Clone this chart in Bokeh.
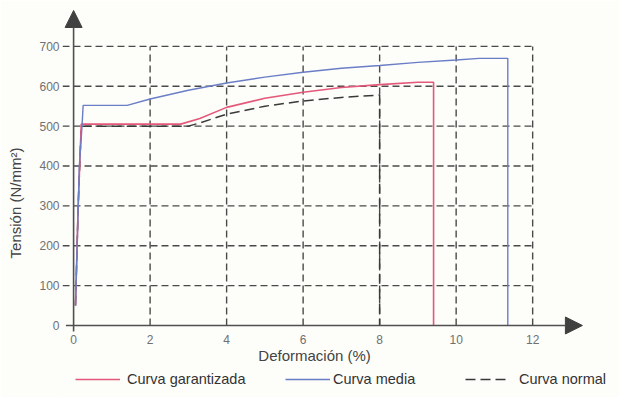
from bokeh.plotting import figure
from bokeh.models import (Range1d, FixedTicker, Arrow, NormalHead, Legend, LegendItem)
from bokeh.core.properties import value
from bokeh.embed import file_html
from bokeh.resources import INLINE

# ---- data ----
x_ticks = [0, 2, 4, 6, 8, 10, 12]
x_tick_labels = [str(t) for t in x_ticks]
y_ticks = [0, 100, 200, 300, 400, 500, 600, 700]

garantizada_x = [0.05, 0.12, 0.2, 2.8, 3.3, 4.0, 5.0, 6.0, 7.0, 8.0, 9.0, 9.41, 9.41]
garantizada_y = [50, 300, 505, 505, 519, 547, 570, 585, 597, 604, 610, 610, 0]

media_x = [0.05, 0.15, 0.22, 0.25, 1.4, 2.0, 3.0, 4.0, 5.0, 6.0, 7.0, 8.0, 9.0, 10.0, 10.6, 11.35, 11.35]
media_y = [50, 400, 500, 552, 552, 568, 590, 608, 623, 635, 645, 652, 660, 666, 670, 670, 0]

normal_x = [0.05, 0.12, 0.2, 3.0, 3.3, 4.0, 5.0, 6.0, 7.0, 8.0, 8.0]
normal_y = [50, 300, 500, 500, 508, 530, 550, 563, 572, 578, 0]

labels = ["Curva garantizada", "Curva media", "Curva normal"]
x_title = "Deformación (%)"
y_title = "Tensión (N/mm²)"

BG = "#fdfdfa"
GRID = "#4a4a4a"
AXIS = "#505050"
RED = "#e4587a"
BLUE = "#6a7ec6"
BLACK = "#3a3a3a"
FONT = "Liberation Sans"

p = figure(frame_width=557, frame_height=389,
           x_range=Range1d(-0.29, 14.27), y_range=Range1d(-180.6, 795),
           output_backend="svg", toolbar_location=None,
           min_border_left=62, min_border_right=0, min_border_top=8,
           min_border_bottom=0,
           background_fill_color=BG, border_fill_color=BG)
p.grid.visible = False
p.outline_line_color = None
p.xaxis.visible = False

ax = p.yaxis[0]
ax.ticker = FixedTicker(ticks=y_ticks)
ax.axis_line_color = None
ax.major_tick_line_color = None
ax.minor_tick_line_color = None
ax.major_tick_out = 0
ax.major_tick_in = 0
ax.major_label_standoff = 3
ax.major_label_text_font = FONT
ax.major_label_text_font_size = "12px"
ax.major_label_text_color = "#707070"
ax.axis_label = y_title
ax.axis_label_text_font = FONT
ax.axis_label_text_font_size = "15px"
ax.axis_label_text_font_style = "normal"
ax.axis_label_text_color = "#444444"
ax.axis_label_standoff = 12

# x tick labels and title (drawn as text below the y=0 axis)
p.text(x=x_ticks, y=[0] * len(x_ticks), text=x_tick_labels,
       text_align="center", text_baseline="middle", y_offset=14,
       text_font=value(FONT), text_font_size="12px", text_color="#707070")
p.text(x=[6.3], y=[0], text=[x_title],
       text_align="center", text_baseline="middle", y_offset=30,
       text_font=value(FONT), text_font_size="15px", text_color="#444444")

# dashed grid
p.segment(x0=p.x_range.start, y0=y_ticks[1:], x1=x_ticks[-1], y1=y_ticks[1:],
          line_color=GRID, line_width=1.4, line_dash="7 4")
p.segment(x0=x_ticks[1:], y0=y_ticks[0], x1=x_ticks[1:], y1=y_ticks[-1],
          line_color=GRID, line_width=1.4, line_dash="7 4")

# axes with arrows
p.add_layout(Arrow(end=NormalHead(size=17, fill_color="#404040", line_color="#404040"),
                   x_start=-0.2, y_start=0, x_end=13.3, y_end=0,
                   line_color=AXIS, line_width=1.6))
p.add_layout(Arrow(end=NormalHead(size=17, fill_color="#404040", line_color="#404040"),
                   x_start=0, y_start=-15, x_end=0, y_end=790,
                   line_color=AXIS, line_width=1.6))

r_norm = p.line(normal_x, normal_y, line_color=BLACK, line_width=1.5, line_dash="10 5")
r_gar = p.line(garantizada_x, garantizada_y, line_color=RED, line_width=1.6)
r_med = p.line(media_x, media_y, line_color=BLUE, line_width=1.4)

legend_spec = [(labels[0], r_gar, 9, 7), (labels[1], r_med, 219, 3), (labels[2], r_norm, 399, 9)]
for lab, rend, lx, stand in legend_spec:
    lg = Legend(items=[LegendItem(label=lab, renderers=[rend])],
                orientation="horizontal", location=(lx, 4),
                margin=0, padding=4, glyph_width=45,
                label_standoff=stand,
                label_text_font=FONT, label_text_font_size="14.5px",
                label_text_color="#333333",
                background_fill_alpha=0, border_line_alpha=0)
    p.add_layout(lg, "center")

open("out.html", "w").write(file_html(p, INLINE))
